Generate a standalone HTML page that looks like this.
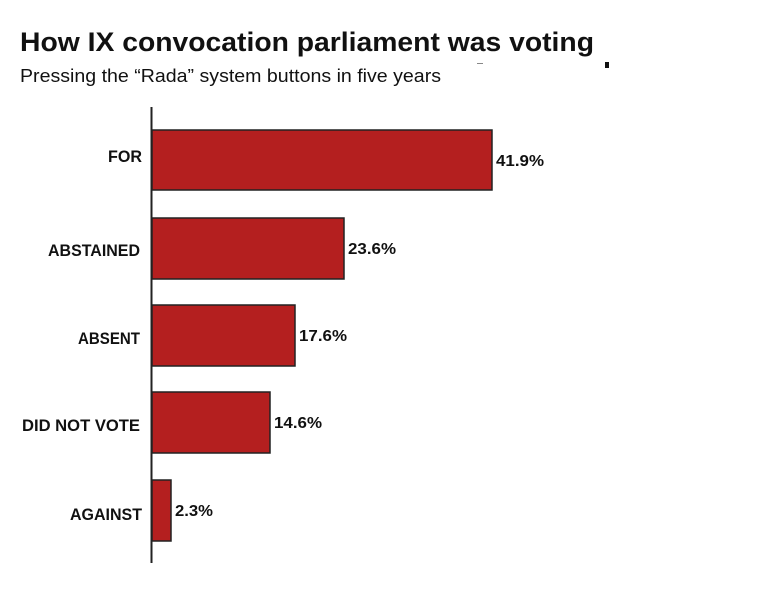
<!DOCTYPE html>
<html><head><style>
body{margin:0;background:#fff;}
svg{display:block;font-family:"Liberation Sans",sans-serif;}
</style></head><body>
<svg width="780" height="593" xmlns="http://www.w3.org/2000/svg">
<text x="20" y="51" font-size="27" font-weight="bold" fill="#111" textLength="574" lengthAdjust="spacingAndGlyphs">How IX convocation parliament was voting</text>
<text x="20" y="82" font-size="18" fill="#111" textLength="421" lengthAdjust="spacingAndGlyphs">Pressing the “Rada” system buttons in five years</text>
<rect x="477" y="63" width="6" height="1" fill="#888"/>
<rect x="605" y="62" width="4" height="6" fill="#111"/>
<line x1="151.5" y1="107" x2="151.5" y2="563" stroke="#222" stroke-width="2"/>
<g fill="#b41f1f" stroke="#222" stroke-width="1.5">
<rect x="152" y="130" width="340" height="60"/>
<rect x="152" y="218" width="192" height="61"/>
<rect x="152" y="305" width="143" height="61"/>
<rect x="152" y="392" width="118" height="61"/>
<rect x="152" y="480" width="19" height="61"/>
</g>
<g font-size="17" font-weight="bold" fill="#111" lengthAdjust="spacingAndGlyphs">
<text x="108" y="162" textLength="34" lengthAdjust="spacingAndGlyphs">FOR</text>
<text x="48" y="256" textLength="92" lengthAdjust="spacingAndGlyphs">ABSTAINED</text>
<text x="78" y="344" textLength="62" lengthAdjust="spacingAndGlyphs">ABSENT</text>
<text x="22" y="431" textLength="118" lengthAdjust="spacingAndGlyphs">DID NOT VOTE</text>
<text x="70" y="520" textLength="72" lengthAdjust="spacingAndGlyphs">AGAINST</text>
</g>
<g font-size="16" font-weight="bold" fill="#111">
<text x="496" y="166" textLength="48" lengthAdjust="spacingAndGlyphs">41.9%</text>
<text x="348" y="254" textLength="48" lengthAdjust="spacingAndGlyphs">23.6%</text>
<text x="299" y="341" textLength="48" lengthAdjust="spacingAndGlyphs">17.6%</text>
<text x="274" y="428" textLength="48" lengthAdjust="spacingAndGlyphs">14.6%</text>
<text x="175" y="516" textLength="38" lengthAdjust="spacingAndGlyphs">2.3%</text>
</g>
</svg>
</body></html>
